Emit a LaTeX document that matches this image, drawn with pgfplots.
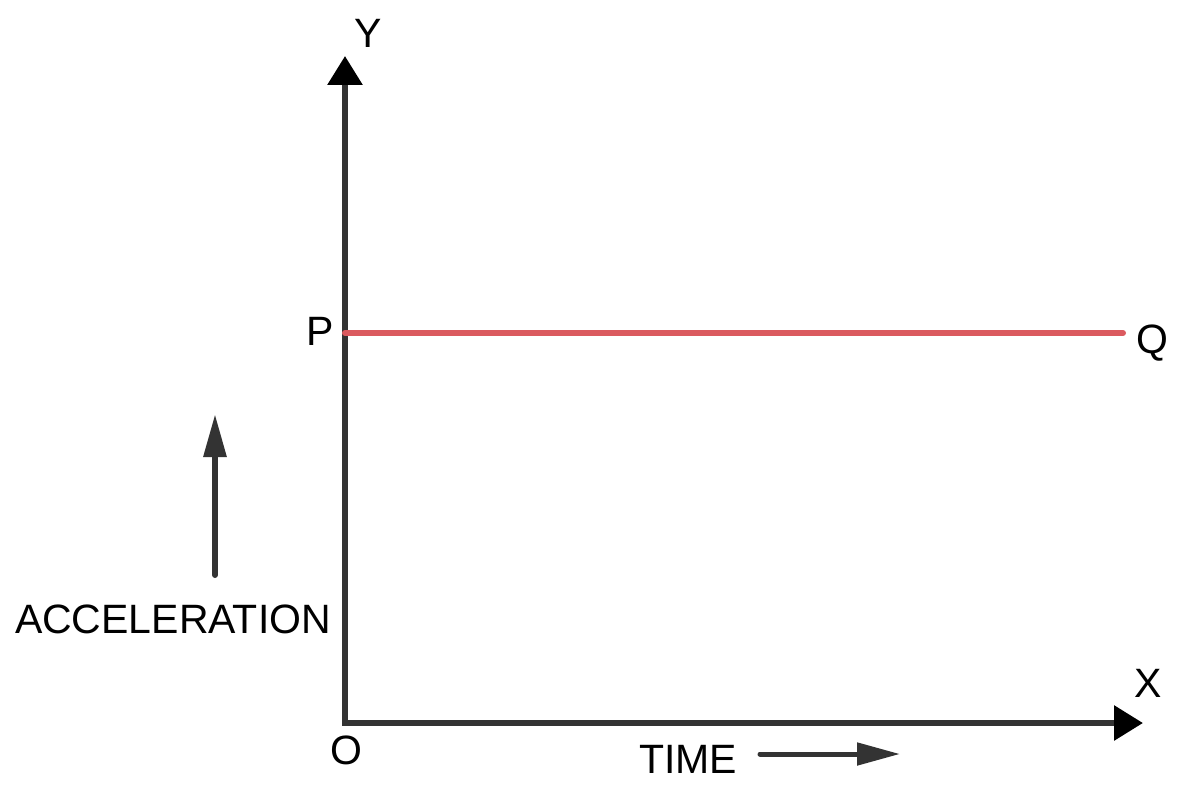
\documentclass[border=0pt]{standalone}
\usepackage{pgfplots}
\pgfplotsset{compat=1.18}
\usepackage{fontspec}
\setmainfont{Liberation Sans}
\usetikzlibrary{arrows.meta}
\definecolor{axisgray}{HTML}{333333}
\definecolor{pqred}{HTML}{DB5A5F}
\begin{document}
\begin{tikzpicture}
\begin{axis}[
  x=0.5pt, y=0.5pt,
  xmin=0, xmax=798, ymin=0, ymax=667,
  axis lines=left,
  every outer x axis line/.append style={line width=3pt, color=axisgray, line cap=rect, -{Triangle[length=14.5pt,width=17pt,color=black]}},
  every outer y axis line/.append style={line width=3pt, color=axisgray, line cap=rect, -{Triangle[length=14.5pt,width=17pt,color=black]}},
  ticks=none,
  clip=false,
  font=\fontsize{20.5}{24}\selectfont,
]
\addplot[pqred, line width=3pt, line cap=round] coordinates {(0,390) (778,390)};
\path (axis cs:-345,-71) rectangle (axis cs:841,723);
\node[anchor=base] at (axis cs:23,675) {Y};
\node[anchor=base] at (axis cs:803,26) {X};
\node[anchor=base] at (axis cs:1,-41) {O};
\node[anchor=base] at (axis cs:-25,378) {P};
\node[anchor=base] at (axis cs:807,370) {Q};
\node[anchor=base] at (axis cs:-172,90) {ACCELERATION};
\node[anchor=base] at (axis cs:343,-50) {TIME};
\draw[axisgray, line width=3pt, line cap=round, -{Triangle[length=21.5pt,width=11pt,color=axisgray]}] (axis cs:-130,148) -- (axis cs:-130,309);
\draw[axisgray, line width=2.5pt, line cap=round, -{Triangle[length=21.5pt,width=11pt,color=axisgray]}] (axis cs:415,-31) -- (axis cs:555,-31);
\end{axis}
\end{tikzpicture}
\end{document}
